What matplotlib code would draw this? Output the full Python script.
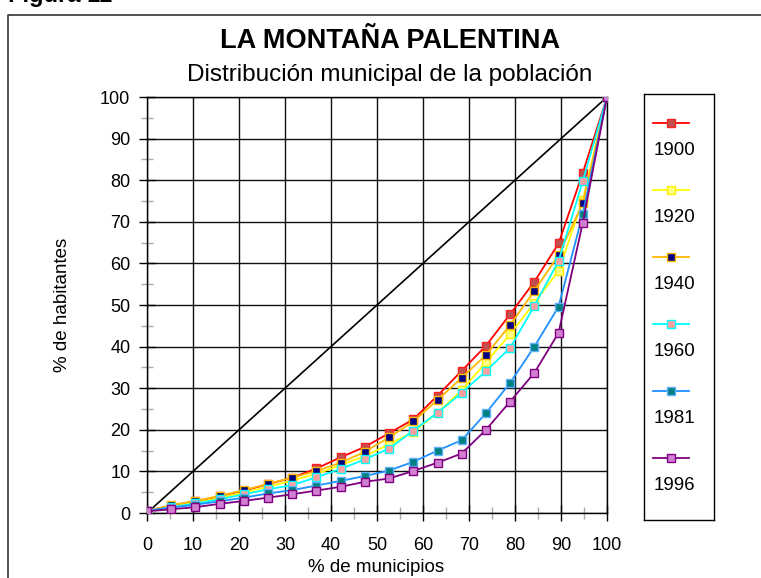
import numpy as np
import matplotlib.pyplot as plt
from matplotlib.lines import Line2D

plt.rcParams['font.family'] = ['Liberation Sans', 'DejaVu Sans']

# % de municipios (20 points, evenly spaced)
municipios = np.linspace(0, 100, 20)

years = ['1900', '1920', '1940', '1960', '1981', '1996']
pob_1900 = [0.5, 1.8, 2.8, 4.0, 5.4, 6.9, 8.5, 10.7, 13.4, 15.9, 19.2, 22.5, 28.2, 34.2, 40.2, 47.8, 55.6, 64.8, 81.8, 100]
pob_1920 = [0.3, 1.5, 2.5, 3.6, 4.9, 6.3, 7.8, 9.4, 11.5, 13.7, 16.5, 19.5, 24.1, 29.5, 36.2, 43.0, 50.5, 58.2, 75.2, 100]
pob_1940 = [0.5, 1.9, 2.9, 4.1, 5.5, 7.0, 8.5, 10.1, 12.1, 14.7, 18.2, 22.0, 27.2, 32.5, 38.0, 45.2, 53.4, 62.0, 74.4, 100]
pob_1960 = [0.4, 1.4, 2.3, 3.3, 4.5, 5.7, 6.7, 8.6, 10.6, 12.9, 15.5, 19.8, 24.1, 28.9, 34.1, 39.7, 49.8, 60.6, 79.8, 100]
pob_1981 = [0.6, 1.3, 2.0, 2.8, 3.7, 4.7, 5.5, 6.6, 7.7, 8.9, 10.2, 12.3, 15.0, 17.5, 24.0, 31.3, 40.0, 49.6, 71.9, 100]
pob_1996 = [0.4, 0.9, 1.4, 2.2, 2.9, 3.7, 4.5, 5.4, 6.3, 7.5, 8.3, 10.1, 12.1, 14.3, 20.0, 26.8, 33.7, 43.3, 69.8, 100]
series = [pob_1900, pob_1920, pob_1940, pob_1960, pob_1981, pob_1996]

# line colour, marker face, marker edge
styles = [('#ff0000', '#c05050', '#ff2020'),
          ('#ffff00', '#ffff80', '#ffee00'),
          ('#ffb800', '#000080', '#ffb800'),
          ('#00ffff', '#ffa0a0', '#00ffff'),
          ('#1e90ff', '#008080', '#60b0ff'),
          ('#800080', '#d080d0', '#800080')]

fig = plt.figure(figsize=(7.61, 5.78), dpi=100)
ax = fig.add_axes([147/761, 1-513/578, 460/761, 416/578])

ax.plot([0, 100], [0, 100], color='black', lw=1.2, zorder=2)
for vals, (lc, fc, ec) in zip(series, styles):
    ax.plot(municipios, vals, color=lc, lw=1.3, marker='s', ms=5.5,
            mfc=fc, mec=ec, mew=1.0, zorder=3)

ax.set_xlim(0, 100)
ax.set_ylim(0, 100)
ax.set_xticks(np.arange(0, 101, 10))
ax.set_yticks(np.arange(0, 101, 10))
ax.set_xticks(np.arange(5, 100, 10), minor=True)
ax.set_yticks(np.arange(5, 100, 10), minor=True)
ax.grid(True, which='major', color='#101010', lw=1.0)
ax.tick_params(which='major', direction='inout', length=12, width=1, colors='black',
               labelsize=13)
ax.tick_params(axis='x', which='major', pad=11)
ax.tick_params(axis='y', which='major', pad=6)
ax.tick_params(which='minor', direction='inout', length=8, width=1, color='#aaaaaa')
for s in ax.spines.values():
    s.set_color('black')
    s.set_linewidth(1)

ax.set_xlabel('% de municipios', fontsize=13.5)
ax.set_ylabel('% de habitantes', fontsize=13.5)
ax.xaxis.set_label_coords(0.498, -0.11)
ax.yaxis.set_label_coords(-0.165, 0.5)

fig.text(390/761, 1-41/578, 'LA MONTAÑA PALENTINA', fontsize=19.5, fontweight='bold',
         ha='center', va='center')
fig.text(390/761, 1-75/578, 'Distribución municipal de la población', fontsize=17.5,
         ha='center', va='center')
fig.text(8/761, 1-2/578, 'Figura 11', fontsize=17, fontweight='bold',
         ha='left', va='baseline')

# outer frame (top and left edges visible)
fig.add_artist(Line2D([8/761, 8/761, 1.0], [0.0, 1-15/578, 1-15/578],
                      transform=fig.transFigure, color='#333333', lw=1.2))

# legend box: line sample above, year below
lax = fig.add_axes([644/761, 1-520/578, 70/761, 426/578])
lax.set_xlim(644, 714)
lax.set_ylim(520, 94)
lax.set_xticks([])
lax.set_yticks([])
for s in lax.spines.values():
    s.set_color('black')
    s.set_linewidth(1)
for i, (yr, (lc, fc, ec)) in enumerate(zip(years, styles)):
    y0 = 122.7 + i * 67
    lax.plot([653, 689], [y0, y0], color=lc, lw=1.3)
    lax.plot([671], [y0], marker='s', ms=5.5, mfc=fc, mec=ec, mew=1.0, color=lc)
    lax.text(654, y0 + 27.5, yr, fontsize=13.5, ha='left', va='center')

fig.savefig('out.png', dpi=100)
